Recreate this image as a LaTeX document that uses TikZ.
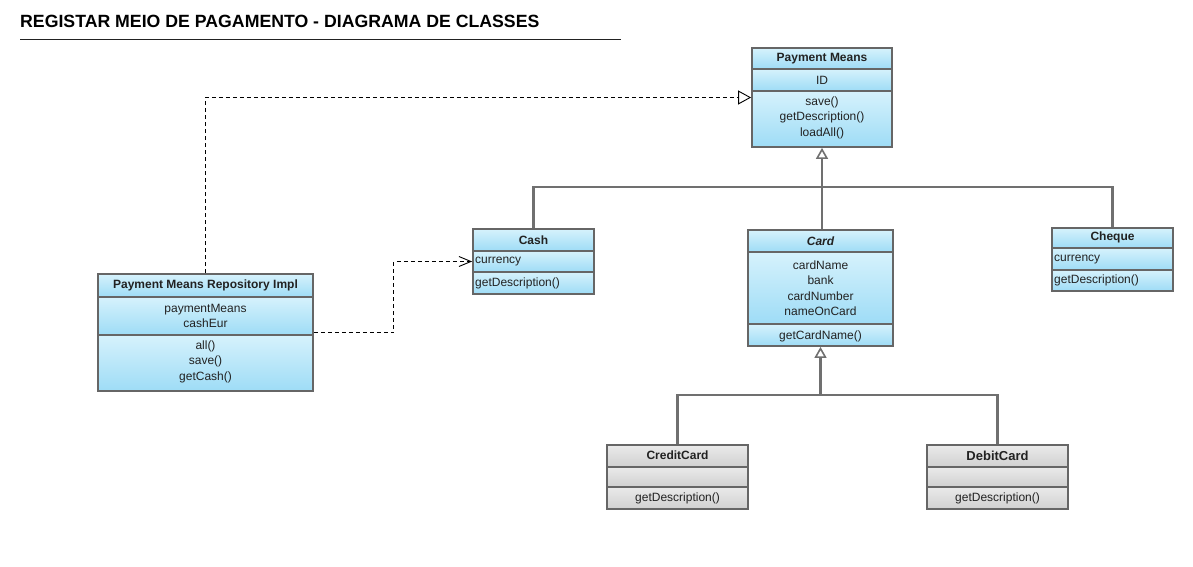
\documentclass[tikz,border=0pt]{standalone}
\usepackage{fontspec}
\setmainfont{Liberation Sans}
\usetikzlibrary{arrows.meta,fit}

\definecolor{boxline}{RGB}{102,102,102}
\definecolor{linkgrey}{RGB}{112,112,112}
\definecolor{cyantop}{RGB}{214,242,252}
\definecolor{cyanbot}{RGB}{158,220,246}
\definecolor{greytop}{RGB}{234,234,234}
\definecolor{greybot}{RGB}{208,208,208}
\definecolor{inktext}{RGB}{34,34,34}

\tikzset{
  umlbox/.style={draw=boxline, line width=1.8pt, inner sep=0pt},
  bluesect/.style={top color=cyantop, bottom color=cyanbot},
  greysect/.style={top color=greytop, bottom color=greybot},
  divider/.style={draw=boxline, line width=1.8pt},
  classname/.style={font=\fontsize{12}{14}\selectfont\bfseries, text=inktext, inner sep=0pt},
  members/.style={font=\fontsize{12}{15.5}\selectfont, text=inktext, align=center, inner sep=0pt},
  leftmembers/.style={members, align=left, anchor=west},
  inherit/.style={draw=linkgrey, line width=2.2pt},
  inherittip/.style={inherit, -{Triangle[open, fill=white, length=11pt, width=12pt, line width=1.6pt]}},
  realize/.style={draw=black, line width=0.9pt, dash pattern=on 4pt off 3pt, -{Triangle[open, fill=white, length=13pt, width=14pt]}},
  depend/.style={draw=black, line width=0.9pt, dash pattern=on 4pt off 3pt, -{Straight Barb[length=12pt, width=10pt]}},
}

% name, section style, left, top, right, header bottom, attributes bottom, bottom
\newcommand{\umlclass}[8]{%
  \shade[#2] (#3,#4) rectangle (#5,#6);
  \shade[#2] (#3,#6) rectangle (#5,#7);
  \shade[#2] (#3,#7) rectangle (#5,#8);
  \draw[divider] (#3,#6) -- (#5,#6) (#3,#7) -- (#5,#7);
  \node[umlbox, fit={(#3,#4) (#5,#8)}] (#1) {};
}

\begin{document}
\begin{tikzpicture}[x=1pt,y=-1pt]
  \path[fill=white, use as bounding box] (0,0) rectangle (1193,567);

  % title
  \node[anchor=base west, inner sep=0pt, text=black, font=\fontsize{17.7}{20}\selectfont\bfseries] (title) at (20,28) {REGISTAR MEIO DE PAGAMENTO - DIAGRAMA DE CLASSES};
  \draw[line width=1pt, inktext] (20,40) -- (621,40);

  % classes
  \umlclass{pm}{bluesect}{752}{48}{892}{69}{91}{147}
  \node[classname] (pm-name) at (822,59) {Payment Means};
  \node[members] (pm-attr) at (822,80) {ID};
  \node[members] (pm-ops) at (822,117.5) {save()\\getDescription()\\loadAll()};

  \umlclass{cash}{bluesect}{473}{229}{594}{251}{272}{294}
  \node[classname] (cash-name) at (533.5,240) {Cash};
  \node[leftmembers] (cash-attr) at (475,262) {currency};
  \node[leftmembers] (cash-ops) at (475,283.5) {getDescription()};

  \umlclass{card}{bluesect}{748}{230}{893}{252}{324}{346}
  \node[classname] (card-name) at (820.5,241) {\itshape Card};
  \node[members] (card-attr) at (820.5,288) {cardName\\bank\\cardNumber\\nameOnCard};
  \node[members] (card-ops) at (820.5,336) {getCardName()};

  \umlclass{cheque}{bluesect}{1052}{228}{1173}{248}{270}{291}
  \node[classname] (cheque-name) at (1112.5,237) {Cheque};
  \node[leftmembers] (cheque-attr) at (1054,259.5) {currency};
  \node[leftmembers] (cheque-ops) at (1054,280) {getDescription()};

  \umlclass{repo}{bluesect}{98}{274}{313}{297}{335}{391}
  \node[classname] (repo-name) at (205.5,285.5) {Payment Means Repository Impl};
  \node[members] (repo-attr) at (205.5,316) {paymentMeans\\cashEur};
  \node[members] (repo-ops) at (205.5,361.5) {all()\\save()\\getCash()};

  \umlclass{credit}{greysect}{607}{445}{748}{467}{487}{509}
  \node[classname] (credit-name) at (677.5,455.5) {CreditCard};
  \node[members] (credit-ops) at (677.5,498) {getDescription()};

  \umlclass{debit}{greysect}{927}{445}{1068}{467}{487}{509}
  \node[classname, font=\fontsize{13}{15}\selectfont\bfseries] (debit-name) at (997.5,456) {DebitCard};
  \node[members] (debit-ops) at (997.5,498) {getDescription()};

  % generalisations
  \coordinate (bus) at (822,187);
  \draw[inherit] (cash.north) |- (bus) -| (cheque.north);
  \draw[inherittip] (pm.south |- card.north) -- (pm.south);
  \coordinate (subbus) at (821,395);
  \draw[inherit] (credit.north) |- (subbus) -| (debit.north);
  \draw[inherittip] (card.south |- subbus) -- (card.south);

  % realisation and dependency
  \draw[realize] (repo.north) |- (pm.west);
  \draw[depend] (repo.east) -- ++(80,0) |- (cash.west);
\end{tikzpicture}
\end{document}
